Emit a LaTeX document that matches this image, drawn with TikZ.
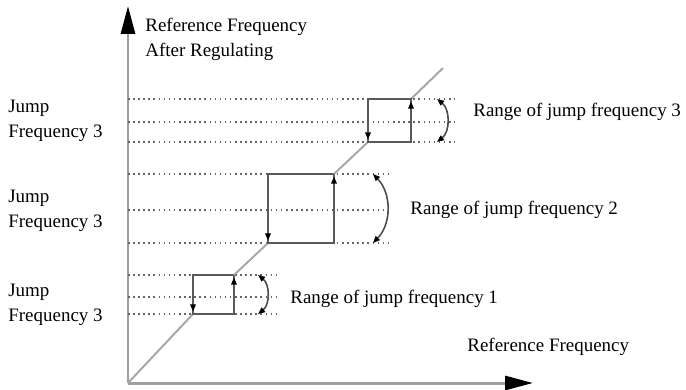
\documentclass[tikz,border=0pt]{standalone}
\usepackage{fontspec}
\setmainfont{Liberation Serif}
\usetikzlibrary{arrows.meta, positioning, calc}

\begin{document}
\begin{tikzpicture}[
    x=0.02cm, y=-0.02cm,
    font=\fontsize{10.8}{14.2}\selectfont,
    axis/.style={draw=gray!75, line width=1.7pt, -{Triangle[length=0.56cm, width=0.28cm, color=black]}},
    grid/.style={draw=gray!80!black, dotted, line width=0.9pt},
    box/.style={draw=gray!70!black, line width=0.9pt},
    ref/.style={draw=gray!70, line width=1.1pt},
    jumparr/.style={draw=gray!70!black, line width=0.9pt, -{Triangle[length=4pt, width=3.2pt, color=black]}, shorten >=1.5pt},
    rangearr/.style={draw=gray!60!black, line width=0.9pt, {Triangle[length=4pt, width=3.2pt, color=black]}-{Triangle[length=4pt, width=3.2pt, color=black]}},
    lbl/.style={anchor=west, align=left, inner sep=0pt}
]
\useasboundingbox (0,0) rectangle (686,389);

% axes
\coordinate (O) at (128,383);
\coordinate (ytip) at (128,6);
\coordinate (xtip) at (533,383);
\draw[axis] (O) -- (ytip);
\draw[axis] (O) -- (xtip);

\node[lbl] (ytitle) at (145,39) {Reference Frequency\\After Regulating};
\node[lbl] (xtitle) at (467,347) {Reference Frequency};

% jump 1
\draw[grid] (128,275) -- (277,275);
\draw[grid] (128,297) -- (277,297);
\draw[grid] (128,314) -- (277,314);
\coordinate (a1) at (193,314);
\coordinate (b1) at (234,275);
\draw[ref] (O) -- (a1);
\draw[box] (a1) rectangle (b1);
\draw[jumparr] (a1 |- b1) -- (a1);
\draw[jumparr] (a1 -| b1) -- (b1);
\coordinate (r1a) at (258,275);
\coordinate (r1b) at (258,314);
\draw[rangearr] (r1a) to[bend left=52] (r1b);
\node[lbl] (range1) at (290,299) {Range of jump frequency 1};
\node[lbl] (jump1) at (8,305) {Jump\\Frequency 3};

% jump 2
\draw[grid] (128,174) -- (392,174);
\draw[grid] (128,210) -- (392,210);
\draw[grid] (128,243) -- (392,243);
\coordinate (a2) at (268,243);
\coordinate (b2) at (334,174);
\draw[ref] (b1) -- (a2);
\draw[box] (a2) rectangle (b2);
\draw[jumparr] (a2 |- b2) -- (a2);
\draw[jumparr] (a2 -| b2) -- (b2);
\coordinate (r2a) at (373,174);
\coordinate (r2b) at (373,243);
\draw[rangearr] (r2a) to[bend left=44] (r2b);
\node[lbl] (range2) at (410,210) {Range of jump frequency 2};
\node[lbl] (jump2) at (8,211) {Jump\\Frequency 3};

% jump 3
\draw[grid] (128,99) -- (455,99);
\draw[grid] (128,122) -- (455,122);
\draw[grid] (128,142) -- (455,142);
\coordinate (a3) at (368,142);
\coordinate (b3) at (411,99);
\coordinate (top) at (443,68);
\draw[ref] (b2) -- (a3);
\draw[ref] (b3) -- (top);
\draw[box] (a3) rectangle (b3);
\draw[jumparr] (a3 |- b3) -- (a3);
\draw[jumparr] (a3 -| b3) -- (b3);
\coordinate (r3a) at (437,99);
\coordinate (r3b) at (437,142);
\draw[rangearr] (r3a) to[bend left=52] (r3b);
\node[lbl] (range3) at (473,112) {Range of jump frequency 3};
\node[lbl] (jump3) at (8,121) {Jump\\Frequency 3};

\end{tikzpicture}
\end{document}
